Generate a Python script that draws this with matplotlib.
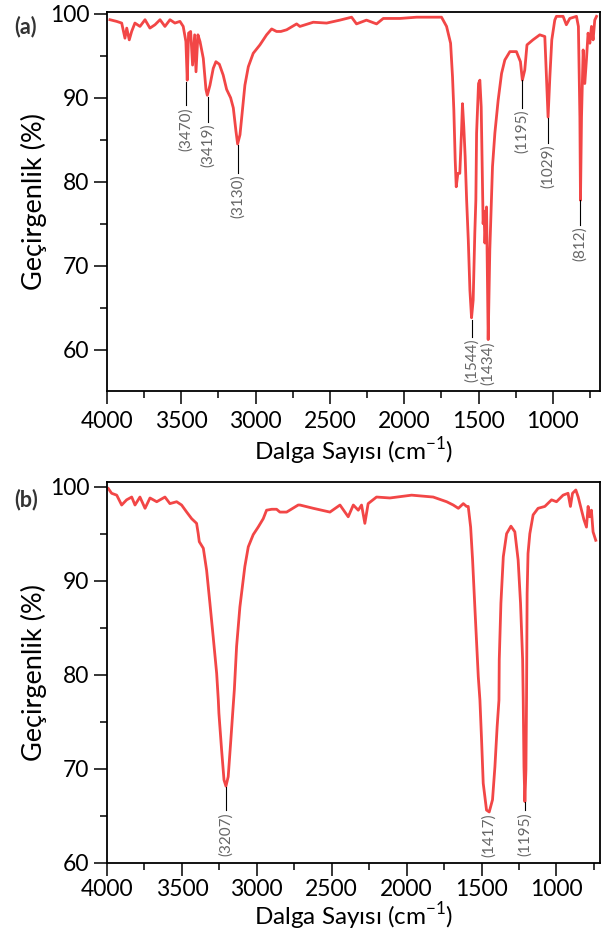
import numpy as np
import matplotlib
matplotlib.use("Agg")
import matplotlib.pyplot as plt

plt.rcParams['font.family'] = ['Lato', 'DejaVu Sans']

# spectrum (a) - wavenumber / transmittance
wn_a = [3980, 3935, 3901, 3879, 3867, 3850, 3834, 3812, 3778, 3744, 3711, 3677, 3643,
        3610, 3576, 3543, 3509, 3487, 3469, 3460, 3451, 3437, 3424, 3410, 3401, 3388,
        3374, 3352, 3334, 3325, 3307, 3285, 3267, 3244, 3218, 3195, 3168, 3150, 3132,
        3121, 3105, 3087, 3072, 3049, 3016, 2971, 2926, 2892, 2859, 2830, 2791, 2724,
        2702, 2612, 2522, 2433, 2354, 2321, 2254, 2186, 2141, 2029, 1917, 1805, 1749,
        1715, 1688, 1675, 1666, 1657, 1650, 1639, 1626, 1614, 1608, 1599, 1590, 1580,
        1569, 1558, 1547, 1536, 1525, 1518, 1513, 1500, 1491, 1482, 1473, 1469, 1463,
        1457, 1446, 1435, 1424, 1413, 1406, 1390, 1368, 1345, 1323, 1289, 1245, 1218,
        1205, 1189, 1174, 1134, 1088, 1054, 1043, 1032, 1020, 1007, 987, 976, 931, 909,
        886, 841, 828, 818, 814, 807, 796, 785, 774, 763, 751, 740, 729, 718, 706]
tr_a = [99.3, 99.1, 98.9, 97.1, 98.3, 96.9, 97.9, 98.9, 98.5, 99.3, 98.3, 98.7, 99.3,
        98.5, 99.3, 98.9, 99.1, 98.5, 96.7, 92.1, 97.7, 97.9, 93.9, 97.5, 93.1, 97.5,
        96.7, 94.7, 91.0, 90.3, 91.5, 93.5, 94.3, 94.0, 92.7, 91.0, 90.0, 88.8, 86.0,
        84.5, 85.6, 88.8, 91.5, 93.7, 95.3, 96.3, 97.5, 98.2, 97.9, 97.9, 98.1, 98.8,
        98.5, 99.0, 98.9, 99.25, 99.6, 98.8, 99.25, 98.8, 99.45, 99.45, 99.6, 99.6, 99.6,
        98.5, 96.5, 92.5, 88.5, 82.6, 79.4, 81.0, 81.0, 86.2, 89.3, 86.5, 83.0, 77.8,
        73.1, 67.1, 63.8, 65.9, 73.9, 77.8, 85.8, 91.7, 92.1, 88.9, 79.4, 75.0, 76.5,
        72.7, 77.0, 61.2, 71.9, 77.8, 81.8, 85.8, 89.7, 92.9, 94.5, 95.5, 95.5, 94.3,
        92.1, 93.3, 96.3, 96.9, 97.5, 97.3, 92.5, 87.7, 92.5, 96.9, 99.25, 99.7, 99.7, 98.7,
        99.45, 99.7, 98.5, 87.7, 77.8, 87.7, 95.7, 91.7, 94.5, 97.7, 96.5, 98.5, 96.9, 99.25, 99.7]

# spectrum (b)
wn_b = [3991, 3969, 3935, 3902, 3869, 3835, 3813, 3780, 3746, 3713, 3668, 3613, 3580,
        3535, 3502, 3468, 3435, 3402, 3391, 3384, 3357, 3335, 3313, 3291, 3268, 3257,
        3253, 3235, 3219, 3206, 3191, 3175, 3158, 3150, 3135, 3113, 3080, 3057, 3024,
        2991, 2957, 2935, 2900, 2868, 2846, 2801, 2724, 2712, 2623, 2512, 2445, 2390,
        2356, 2323, 2301, 2279, 2257, 2201, 2112, 1967, 1823, 1733, 1689, 1655, 1622,
        1600, 1589, 1573, 1560, 1544, 1522, 1511, 1500, 1489, 1467, 1449, 1427, 1411,
        1396, 1384, 1382, 1371, 1355, 1333, 1304, 1278, 1256, 1240, 1226, 1222, 1217,
        1211, 1204, 1200, 1196, 1190, 1178, 1156, 1123, 1078, 1033, 1000, 956, 923, 907,
        893, 871, 855, 833, 817, 800, 789, 778, 767, 756, 738]
tr_b = [99.8, 99.3, 99.1, 98.05, 98.6, 98.9, 98.05, 98.9, 97.7, 98.8, 98.4, 98.9, 98.2,
        98.4, 98.05, 97.3, 96.6, 96.1, 95.0, 94.15, 93.45, 91.1, 87.6, 84.0, 80.15, 77.3,
        75.9, 72.0, 68.8, 68.15, 69.15, 72.7, 76.6, 78.4, 83.0, 87.2, 91.5, 93.6, 94.9,
        95.7, 96.6, 97.5, 97.6, 97.6, 97.3, 97.3, 98.05, 98.05, 97.7, 97.3, 98.05, 96.8,
        98.05, 97.5, 98.05, 96.1, 98.2, 98.9, 98.8, 99.1, 98.9, 98.4, 98.05, 97.7, 98.2,
        97.9, 97.9, 95.7, 92.2, 86.9, 79.8, 77.3, 73.05, 68.45, 65.6, 65.4, 66.7, 70.2,
        74.5, 77.3, 81.6, 87.6, 92.55, 95.0, 95.8, 95.2, 92.2, 87.6, 81.6, 77.3, 70.2,
        66.5, 69.9, 77.3, 88.65, 92.9, 95.0, 97.0, 97.7, 97.9, 98.6, 98.4, 99.1, 99.3, 97.9,
        99.3, 99.65, 98.9, 97.5, 96.5, 95.7, 97.9, 96.8, 97.5, 95.2, 94.3]

# peak labels: text, x position on axis, line top, line bottom
pk_a_txt = ['(3470)', '(3419)', '(3130)', '(1544)', '(1434)', '(1195)', '(1029)', '(812)']
pk_a_x = [3469, 3323, 3120, 1543, 1435, 1205, 1032, 818]
pk_a_top = [91.9, 90.1, 84.4, 63.5, 61.2, 92.1, 87.6, 77.8]
pk_a_bot = [89.1, 87.1, 81.1, 61.5, 61.2, 88.8, 84.6, 74.9]

pk_b_txt = ['(3207)', '(1417)', '(1195)']
pk_b_x = [3206, 1454, 1211]
pk_b_top = [68.1, 65.4, 66.5]
pk_b_bot = [65.6, 65.4, 65.6]

red = '#f24646'
grey = '#666666'

fig = plt.figure(figsize=(6.01, 9.35), dpi=100)
ax1 = fig.add_axes([0.178, 0.582, 0.820, 0.405])
ax2 = fig.add_axes([0.178, 0.0773, 0.820, 0.4072])


def style(ax, xmax, ylo, yhi, tpad, xpad):
    ax.set_xlim(4000, xmax)
    ax.set_ylim(ylo, yhi)
    ax.set_xticks([4000, 3500, 3000, 2500, 2000, 1500, 1000])
    ax.set_xticks(np.arange(3750, 700, -500), minor=True)
    ax.set_yticks([60, 70, 80, 90, 100])
    ax.set_yticks([65, 75, 85, 95], minor=True)
    ax.tick_params(which='major', length=9.5, width=1.1, labelsize=16.5, pad=3)
    ax.tick_params(axis='x', which='major', pad=tpad)
    ax.tick_params(which='minor', length=5, width=1.1)
    for s in ax.spines.values():
        s.set_linewidth(1.3)
    ax.set_xlabel('Dalga Sayısı (cm$^{\\mathregular{-1}}$)', fontsize=17.5, labelpad=xpad)
    ax.set_ylabel('Geçirgenlik (%)', fontsize=19.5, labelpad=2)


ax1.plot(wn_a, tr_a, color=red, lw=2.0)
style(ax1, 684, 55.1, 100.2, 5, 2)
for t, x, y0, y1 in zip(pk_a_txt, pk_a_x, pk_a_top, pk_a_bot):
    if y0 != y1:
        ax1.plot([x, x], [y0, y1], color='black', lw=0.8)
    ax1.text(x, y1 - 0.2, t, rotation=90, ha='center', va='top', fontsize=11, color=grey)

ax2.plot(wn_b, tr_b, color=red, lw=2.0)
style(ax2, 711, 60, 100.5, 2.5, 0)
for t, x, y0, y1 in zip(pk_b_txt, pk_b_x, pk_b_top, pk_b_bot):
    if y0 != y1:
        ax2.plot([x, x], [y0, y1], color='black', lw=0.8)
    ax2.text(x, y1 - 0.2, t, rotation=90, ha='center', va='top', fontsize=11, color=grey)

fig.text(0.043, 0.972, '(a)', fontsize=15.5, fontweight='bold', color='#333333', ha='center', va='center')
fig.text(0.043, 0.466, '(b)', fontsize=15.5, fontweight='bold', color='#333333', ha='center', va='center')

fig.savefig('out.png', dpi=100)
